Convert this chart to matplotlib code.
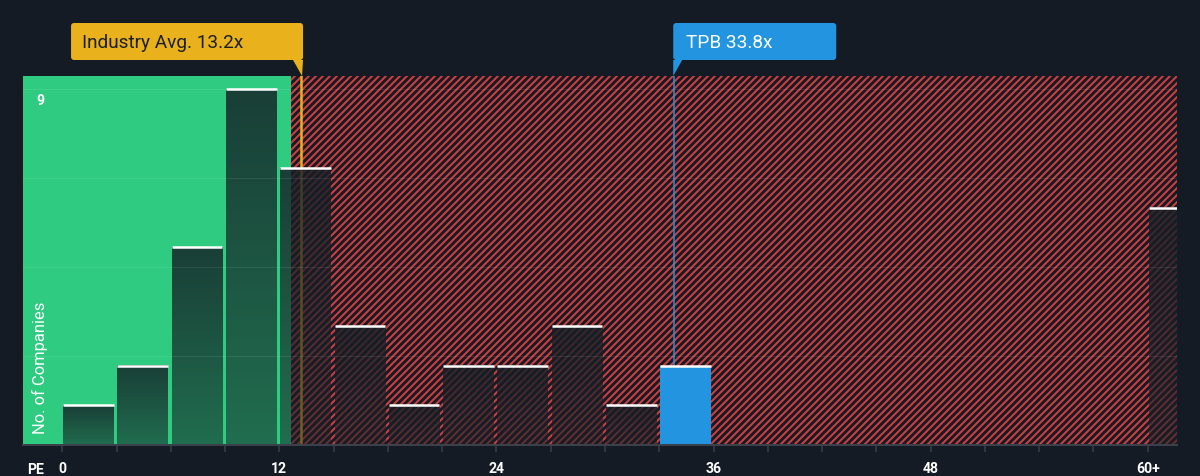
import numpy as np
import matplotlib
matplotlib.use('Agg')
import matplotlib.pyplot as plt
from matplotlib.patches import FancyBboxPatch, Polygon
from matplotlib.transforms import IdentityTransform

# ---------------- data ----------------
bin_starts = list(range(0, 61, 3))
counts = [1, 2, 5, 9, 7, 3, 1, 2, 2, 3, 1, 2, 0, 0, 0, 0, 0, 0, 0, 0, 6]
tick_positions = list(range(0, 61, 3))
tick_labels = ['0', '', '', '', '12', '', '', '', '24', '', '', '', '36',
               '', '', '', '48', '', '', '', '60+']
industry_avg = 13.2
industry_label = 'Industry Avg. 13.2x'
company_pe = 33.8
company_label = 'TPB 33.8x'
company_bin_start = 33
fair_upper = 12.64
grid_levels = [2.25, 4.5, 6.75, 9]
top_label_value = 9

# ---------------- style ----------------
DPI = 84
W, H = 1200, 476
def pt(px):
    return px * 72 / DPI

BG = '#151b24'
GREEN = '#2ecb80'
RED = '#d03f40'
YELLOW = '#e9b11b'
BLUE = '#2394e0'
OVERLAY = (0.086, 0.125, 0.15)
AXIS_GREY = '#3b414a'

plt.rcParams['font.family'] = ['Roboto', 'DejaVu Sans']
plt.rcParams['hatch.linewidth'] = pt(2.0)
plt.rcParams['hatch.color'] = RED

fig = plt.figure(figsize=(W / DPI, H / DPI), dpi=DPI, facecolor=BG)
ax = fig.add_axes([23 / W, 1 - 445 / H, 1154 / W, 369 / H])
ax.set_facecolor(BG)

XMIN, XMAX = -2.17, 61.62
YMAX = 9.33

# background zones
ax.axvspan(XMIN, fair_upper, color=GREEN, lw=0, zorder=0)
ax.axvspan(fair_upper, XMAX, facecolor=BG, edgecolor=RED, hatch='////', lw=0, zorder=0)

# reference lines
ax.axvline(industry_avg, color=YELLOW, lw=pt(2.5), zorder=2)
ax.axvline(company_pe, color=BLUE, lw=pt(1.5), zorder=2)

# bars
n = 64
alpha = np.linspace(0.82, 0.55, n)
grad = np.zeros((n, 1, 4))
grad[:, 0, 0] = OVERLAY[0]
grad[:, 0, 1] = OVERLAY[1]
grad[:, 0, 2] = OVERLAY[2]
grad[:, 0, 3] = alpha

bar_w = 2.8
for s, c in zip(bin_starts, counts):
    if c == 0:
        continue
    left = s + 0.05
    if s == company_bin_start:
        ax.bar(left, c, width=bar_w, align='edge', color=BLUE, lw=0, zorder=3)
    else:
        ax.imshow(grad, extent=[left, left + bar_w, 0, c], aspect='auto',
                  interpolation='bilinear', zorder=3)
    ax.hlines(c, left, left + bar_w, color='white', lw=pt(2.5), zorder=4)

for g in grid_levels:
    ax.axhline(g, color='white', alpha=0.09, lw=pt(1), zorder=5)

ax.set_xlim(XMIN, XMAX)
ax.set_ylim(0, YMAX)

for side in ['top', 'left', 'right']:
    ax.spines[side].set_visible(False)
ax.spines['bottom'].set_color(AXIS_GREY)
ax.spines['bottom'].set_linewidth(pt(2))
ax.spines['bottom'].set_zorder(6)

ax.set_yticks([])
ax.set_xticks(tick_positions, tick_labels)
ax.tick_params(axis='x', colors=AXIS_GREY, length=pt(7), width=pt(1.5),
               pad=pt(10), labelsize=pt(14), labelcolor='white')
for lbl in ax.get_xticklabels():
    lbl.set_fontweight('bold')

ax.text((40 - 23) / 1154, (445 - 368) / 369, 'No. of Companies', transform=ax.transAxes,
        rotation=90, ha='center', va='center', color='white', fontsize=pt(16.5), zorder=7)
ax.annotate(str(top_label_value), xy=((40 - 23) / 1154, top_label_value),
            xycoords=('axes fraction', 'data'), xytext=(0, -5), textcoords='offset pixels',
            ha='center', va='top', color='white', fontweight='bold', fontsize=pt(14), zorder=7)

fig.text(27, H - 474, 'PE', transform=IdentityTransform(), ha='left', va='baseline',
         color='white', fontweight='bold', fontsize=pt(14))

# annotation boxes
lx = ax.transData.transform((industry_avg, 0))[0]
R = lx + 2
fig.add_artist(FancyBboxPatch((R - 232, H - 60), 232, 37,
                              boxstyle='round,pad=0,rounding_size=3',
                              transform=IdentityTransform(), fc=YELLOW, ec='none'))
fig.add_artist(Polygon([(R - 10, H - 60), (R, H - 60), (R - 1, H - 76)], closed=True,
                       transform=IdentityTransform(), fc=YELLOW, ec='none'))
fig.text(R - 232 + 11, H - 48.3, industry_label, transform=IdentityTransform(),
         ha='left', va='baseline', color='#1b1f27', fontsize=pt(19))

bx = ax.transData.transform((company_pe, 0))[0]
B = bx - 0.5
fig.add_artist(FancyBboxPatch((B, H - 60), 163, 37,
                              boxstyle='round,pad=0,rounding_size=3',
                              transform=IdentityTransform(), fc=BLUE, ec='none'))
fig.add_artist(Polygon([(B, H - 60), (B + 9, H - 60), (B, H - 76)], closed=True,
                       transform=IdentityTransform(), fc=BLUE, ec='none'))
fig.text(B + 13, H - 48.3, company_label, transform=IdentityTransform(),
         ha='left', va='baseline', color='white', fontsize=pt(19))

fig.savefig('out.png', dpi=DPI, facecolor=BG)
